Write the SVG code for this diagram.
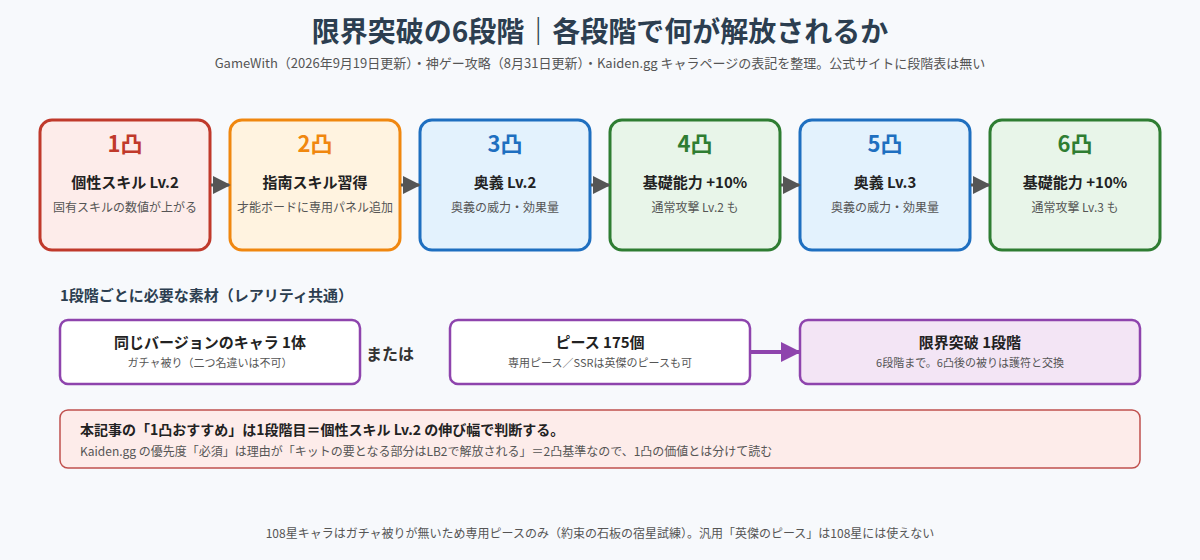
<svg xmlns="http://www.w3.org/2000/svg" width="1200" height="560" viewBox="0 0 1200 560">
<style>
text{font-family:"Noto Sans CJK JP","Noto Sans",sans-serif;text-anchor:middle}
.t{font-size:28px;font-weight:700;fill:#2c3e50}
.st{font-size:13px;fill:#555}
.num{font-size:22px;font-weight:700}
.h{font-size:15px;font-weight:700;fill:#222}
.s{font-size:12px;fill:#555}
.s2{font-size:11px;fill:#555}
.box{stroke-width:3}
.pb{fill:#fff;stroke:#8e44ad;stroke-width:2.5}
</style>
<defs>
<marker id="ag" viewBox="0 0 10 10" refX="9" refY="5" markerWidth="6" markerHeight="6" orient="auto"><path d="M0,0L10,5L0,10z" fill="#555"/></marker>
<marker id="ap" viewBox="0 0 10 10" refX="9" refY="5" markerWidth="5" markerHeight="5" orient="auto"><path d="M0,0L10,5L0,10z" fill="#8e44ad"/></marker>
</defs>
<rect width="1200" height="560" fill="#f7f9fc"/>
<text class="t" x="600" y="42">限界突破の6段階｜各段階で何が解放されるか</text>
<text class="st" x="600" y="68">GameWith（2026年9月19日更新）・神ゲー攻略（8月31日更新）・Kaiden.gg キャラページの表記を整理。公式サイトに段階表は無い</text>
<g id="n1"><rect class="box" x="40" y="120" width="170" height="130" rx="12" fill="#fdecea" stroke="#c0392b"/><text class="num" x="125" y="152" fill="#c0392b">1凸</text><text class="h" x="125" y="188">個性スキル Lv.2</text><text class="s" x="125" y="212">固有スキルの数値が上がる</text></g>
<g id="n2"><rect class="box" x="230" y="120" width="170" height="130" rx="12" fill="#fff3e0" stroke="#f0870f"/><text class="num" x="315" y="152" fill="#f0870f">2凸</text><text class="h" x="315" y="188">指南スキル習得</text><text class="s" x="315" y="212">才能ボードに専用パネル追加</text></g>
<g id="n3"><rect class="box" x="420" y="120" width="170" height="130" rx="12" fill="#e3f2fd" stroke="#1e6fc0"/><text class="num" x="505" y="152" fill="#1e6fc0">3凸</text><text class="h" x="505" y="188">奥義 Lv.2</text><text class="s" x="505" y="212">奥義の威力・効果量</text></g>
<g id="n4"><rect class="box" x="610" y="120" width="170" height="130" rx="12" fill="#e8f5e9" stroke="#2e7d32"/><text class="num" x="695" y="152" fill="#2e7d32">4凸</text><text class="h" x="695" y="188">基礎能力 +10%</text><text class="s" x="695" y="212">通常攻撃 Lv.2 も</text></g>
<g id="n5"><rect class="box" x="800" y="120" width="170" height="130" rx="12" fill="#e3f2fd" stroke="#1e6fc0"/><text class="num" x="885" y="152" fill="#1e6fc0">5凸</text><text class="h" x="885" y="188">奥義 Lv.3</text><text class="s" x="885" y="212">奥義の威力・効果量</text></g>
<g id="n6"><rect class="box" x="990" y="120" width="170" height="130" rx="12" fill="#e8f5e9" stroke="#2e7d32"/><text class="num" x="1075" y="152" fill="#2e7d32">6凸</text><text class="h" x="1075" y="188">基礎能力 +10%</text><text class="s" x="1075" y="212">通常攻撃 Lv.3 も</text></g>
<text x="60" y="301" style="text-anchor:start;font-size:15px;font-weight:700;fill:#2c3e50">1段階ごとに必要な素材（レアリティ共通）</text>
<g id="m1"><rect class="pb" x="60" y="320" width="300" height="64" rx="8"/><text class="h" x="210" y="348">同じバージョンのキャラ 1体</text><text class="s2" x="210" y="367">ガチャ被り（二つ名違いは不可）</text></g>
<text x="390" y="360" style="font-size:16px;font-weight:700;fill:#333">または</text>
<g id="m2"><rect class="pb" x="450" y="320" width="300" height="64" rx="8"/><text class="h" x="600" y="348">ピース 175個</text><text class="s2" x="600" y="367">専用ピース／SSRは英傑のピースも可</text></g>
<g id="m3"><rect class="pb" x="800" y="320" width="340" height="64" rx="8" fill="#f3e5f5" style="fill:#f3e5f5"/><text class="h" x="970" y="348">限界突破 1段階</text><text class="s2" x="970" y="367">6段階まで。6凸後の被りは護符と交換</text></g>
<g id="edges" fill="none">
<line x1="211" y1="185" x2="229" y2="185" stroke="#555" stroke-width="3" marker-end="url(#ag)"/>
<line x1="401" y1="185" x2="419" y2="185" stroke="#555" stroke-width="3" marker-end="url(#ag)"/>
<line x1="591" y1="185" x2="609" y2="185" stroke="#555" stroke-width="3" marker-end="url(#ag)"/>
<line x1="781" y1="185" x2="799" y2="185" stroke="#555" stroke-width="3" marker-end="url(#ag)"/>
<line x1="971" y1="185" x2="989" y2="185" stroke="#555" stroke-width="3" marker-end="url(#ag)"/>
<line x1="751" y1="352" x2="799" y2="352" stroke="#8e44ad" stroke-width="4" marker-end="url(#ap)"/>
</g>
<g id="note"><rect x="60" y="410" width="1080" height="58" rx="8" fill="#fdecea" stroke="#c0504d" stroke-width="1.5"/>
<text x="80" y="435" style="text-anchor:start;font-size:14px;font-weight:700;fill:#222">本記事の「1凸おすすめ」は1段階目＝個性スキル Lv.2 の伸び幅で判断する。</text>
<text x="80" y="456" style="text-anchor:start;font-size:12px;fill:#555">Kaiden.gg の優先度「必須」は理由が「キットの要となる部分はLB2で解放される」＝2凸基準なので、1凸の価値とは分けて読む</text></g>
<text x="600" y="538" style="font-size:12px;fill:#555">108星キャラはガチャ被りが無いため専用ピースのみ（約束の石板の宿星試練）。汎用「英傑のピース」は108星には使えない</text>
</svg>
